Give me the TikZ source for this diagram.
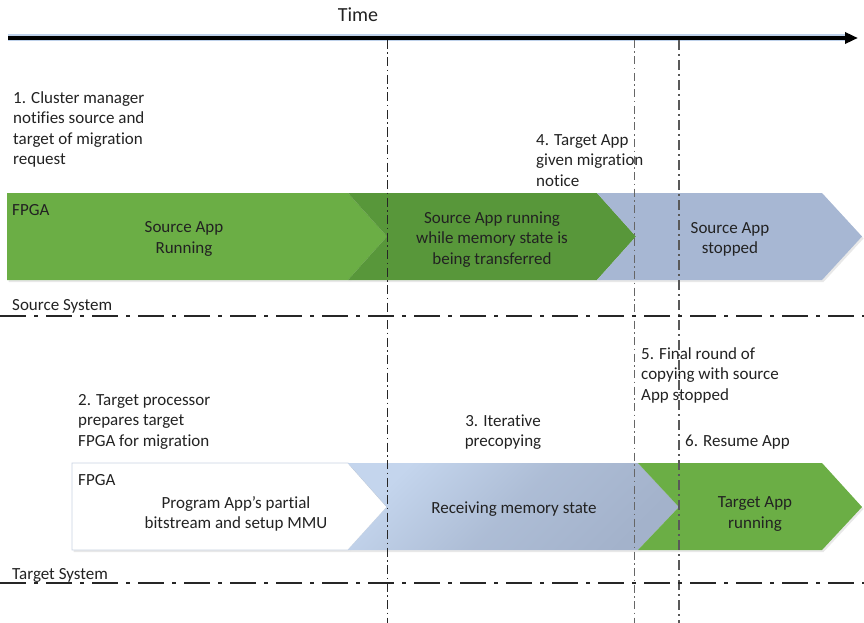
\documentclass[tikz,border=0pt]{standalone}
\usepackage{fontspec}
\setmainfont{Carlito}[Ligatures=NoCommon]
\usetikzlibrary{arrows.meta,shadows}
\definecolor{txt}{HTML}{222222}
\definecolor{grnA}{HTML}{6BAE45}
\definecolor{grnB}{HTML}{58973A}
\definecolor{blueS}{HTML}{A7B7D3}
\definecolor{blueL}{HTML}{C4D5ED}
\definecolor{blueD}{HTML}{A3B2CB}
\definecolor{rim}{HTML}{C9D3E2}
\definecolor{glow}{HTML}{6F9AD0}
\begin{document}
\begin{tikzpicture}[x=1pt,y=-1pt,
  font=\fontsize{17}{20.5}\selectfont,
  every node/.style={text=txt,inner sep=0pt},
  lbl/.style={align=left,anchor=north west},
  ctr/.style={align=center,anchor=center},
  chev/.style={drop shadow={opacity=0.18,shadow xshift=1.5pt,shadow yshift=-2pt}},
  sysline/.style={line width=2.6pt,draw=black!85,dash pattern=on 26pt off 8pt on 4pt off 8pt},
  mark1/.style={line width=0.8pt,draw=black!85,dash pattern=on 9pt off 3.5pt on 1.5pt off 3.5pt},
  mark2/.style={line width=1pt,draw=black!60,dash pattern=on 8pt off 3.5pt on 1.5pt off 3.5pt},
  mark3/.style={line width=1.3pt,draw=black!65,dash pattern=on 10pt off 4pt on 2pt off 4pt},
]
\useasboundingbox (0,0) rectangle (864,623);

% ---- source system timeline bar
\fill[grnA,chev] (7,193) -- (348,193) -- (387,236.5) -- (348,280) -- (7,280) -- cycle;
\fill[grnB,chev] (348,193) -- (597,193) -- (636,236.5) -- (597,280) -- (348,280) -- (387,236.5) -- cycle;
\fill[blueS,chev] (597,193) -- (822,193) -- (862,236.5) -- (822,280) -- (597,280) -- (636,236.5) -- cycle;

% ---- target system timeline bar
\filldraw[fill=white,draw=rim,line width=0.8pt,chev] (72,463) -- (348,463) -- (387,507) -- (348,550) -- (72,550) -- cycle;
\shade[left color=blueL,right color=blueD,middle color=blueD!70!blueL,shading angle=45,chev]
  (348,463) -- (638,463) -- (679,507) -- (638,550) -- (348,550) -- (387,507) -- cycle;
\fill[grnA,chev] (638,463) -- (822,463) -- (862,507) -- (822,550) -- (638,550) -- (679,507) -- cycle;

% ---- time axis
\coordinate (t0) at (8,38);
\coordinate (t1) at (858,38);
\coordinate (t2) at (850,38);
\draw[line width=7pt,draw=glow,opacity=0.45] (t0) -- (t2);
\draw[line width=3.6pt,-{Triangle[length=13pt,width=11pt]}] (t0) -- (t1);
\node (time) at (358,15) {\fontsize{20}{24}\selectfont Time};

% ---- phase boundaries
\coordinate (v1a) at (387,40);  \coordinate (v1b) at (387,623);
\coordinate (v2a) at (634,40);  \coordinate (v2b) at (634,623);
\coordinate (v3a) at (679,40);  \coordinate (v3b) at (679,623);
\draw[mark1] (v1a) -- (v1b);
\draw[mark2] (v2a) -- (v2b);
\draw[mark3] (v3a) -- (v3b);

% ---- system separators
\coordinate (s1a) at (0,316); \coordinate (s1b) at (864,316);
\coordinate (s2a) at (0,583); \coordinate (s2b) at (864,583);
\draw[sysline] (s1a) -- (s1b);
\draw[sysline] (s2a) -- (s2b);

% ---- step annotations
\node[lbl] (n1) at (13,91) {1. Cluster manager\\notifies source and\\target of migration\\request};
\node[lbl] (n4) at (536,134) {4. Target App\\given migration\\notice};
\node[lbl] (n2) at (78,394) {2. Target processor\\prepares target\\FPGA for migration};
\node[ctr] (n3) at (503,432) {3. Iterative\\precopying};
\node[lbl] (n5) at (641,347) {5. Final round of\\copying with source\\App stopped};
\node[lbl] (n6) at (685,435) {6. Resume App};

% ---- bar contents
\node[lbl] (fpgaS) at (12,204) {FPGA};
\node[lbl] (fpgaT) at (78,474) {FPGA};
\node[ctr] (srun) at (184,239) {Source App\\Running};
\node[ctr] (sxfer) at (492,239.5) {Source App running\\while memory state is\\being transferred};
\node[ctr] (sstop) at (730,239.5) {Source App\\stopped};
\node[ctr] (tprog) at (236,514) {Program App’s partial\\bitstream and setup MMU};
\node[ctr] (trecv) at (514,509) {Receiving memory state};
\node[ctr] (trun) at (755,514) {Target App\\running};

% ---- system labels
\node[lbl] (srcsys) at (12,299) {Source System};
\node[lbl] (tgtsys) at (12,568) {Target System};
\end{tikzpicture}
\end{document}
